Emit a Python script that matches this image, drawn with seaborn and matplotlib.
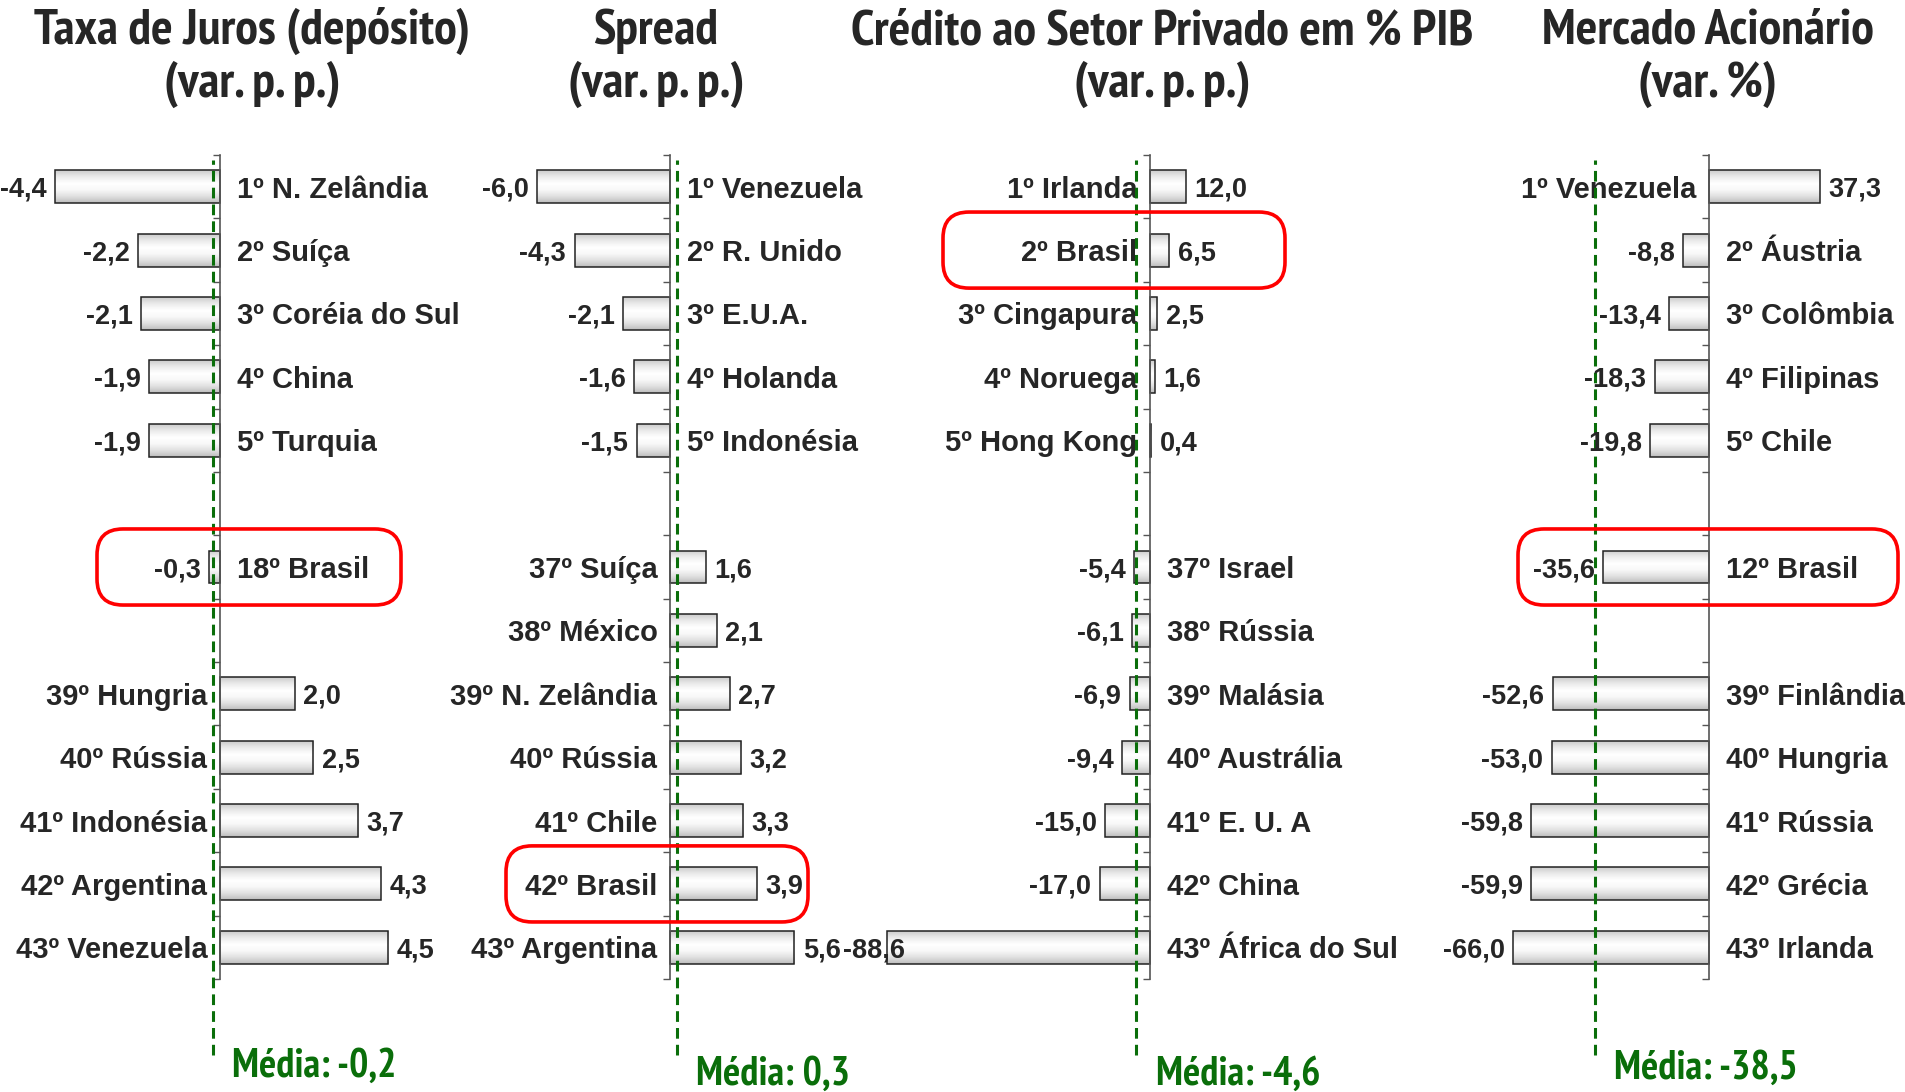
import numpy as np
import pandas as pd
import matplotlib.pyplot as plt
import seaborn as sns
from matplotlib import font_manager
from matplotlib.font_manager import FontProperties
from matplotlib.patches import FancyBboxPatch
from matplotlib.transforms import IdentityTransform

# DADOS ---------------------------------------------------------------------------------
# Taxa de juros (depósito), var. p. p.
juros_paises = ['1º N. Zelândia', '2º Suíça', '3º Coréia do Sul', '4º China', '5º Turquia',
                '18º Brasil',
                '39º Hungria', '40º Rússia', '41º Indonésia', '42º Argentina', '43º Venezuela']
juros_valores = [-4.4, -2.2, -2.1, -1.9, -1.9, -0.3, 2.0, 2.5, 3.7, 4.3, 4.5]
juros_media = -0.2

# Spread, var. p. p.
spread_paises = ['1º Venezuela', '2º R. Unido', '3º E.U.A.', '4º Holanda', '5º Indonésia',
                 '37º Suíça', '38º México', '39º N. Zelândia', '40º Rússia', '41º Chile',
                 '42º Brasil', '43º Argentina']
spread_valores = [-6.0, -4.3, -2.1, -1.6, -1.5, 1.6, 2.1, 2.7, 3.2, 3.3, 3.9, 5.6]
spread_media = 0.3

# Crédito ao setor privado em % PIB, var. p. p.
credito_paises = ['1º Irlanda', '2º Brasil', '3º Cingapura', '4º Noruega', '5º Hong Kong',
                  '37º Israel', '38º Rússia', '39º Malásia', '40º Austrália', '41º E. U. A',
                  '42º China', '43º África do Sul']
credito_valores = [12.0, 6.5, 2.5, 1.6, 0.4, -5.4, -6.1, -6.9, -9.4, -15.0, -17.0, -88.6]
credito_media = -4.6

# Mercado acionário, var. %
acoes_paises = ['1º Venezuela', '2º Áustria', '3º Colômbia', '4º Filipinas', '5º Chile',
                '12º Brasil',
                '39º Finlândia', '40º Hungria', '41º Rússia', '42º Grécia', '43º Irlanda']
acoes_valores = [37.3, -8.8, -13.4, -18.3, -19.8, -35.6, -52.6, -53.0, -59.8, -59.9, -66.0]
acoes_media = -38.5

# Ordem das linhas (os "vazio" são linhas em branco)
juros_ordem = juros_paises[:5] + ['vazio1', juros_paises[5], 'vazio2'] + juros_paises[6:]
spread_ordem = spread_paises[:5] + ['vazio1'] + spread_paises[5:]
credito_ordem = credito_paises[:5] + ['vazio1'] + credito_paises[5:]
acoes_ordem = acoes_paises[:5] + ['vazio1', acoes_paises[5], 'vazio2'] + acoes_paises[6:]

paineis = [
    ('Taxa de Juros (depósito)', '(var. p. p.)', juros_paises, juros_valores, juros_ordem,
     juros_media, '18º Brasil'),
    ('Spread', '(var. p. p.)', spread_paises, spread_valores, spread_ordem,
     spread_media, '42º Brasil'),
    ('Crédito ao Setor Privado em % PIB', '(var. p. p.)', credito_paises, credito_valores,
     credito_ordem, credito_media, '2º Brasil'),
    ('Mercado Acionário', '(var. %)', acoes_paises, acoes_valores, acoes_ordem,
     acoes_media, '12º Brasil'),
]

# LAYOUT (pixels da figura) ------------------------------------------------------------
W, H = 1906, 1092
# eixo zero (x), pixels por unidade, limites do eixo, caixa vermelha, centro do título, y do texto da média
layout = [
    dict(zero=220, escala=37.4, esq=30, dir=400, caixa=(97, 401), titulo=252, media_y=1077),
    dict(zero=670, escala=22.2, esq=480, dir=860, caixa=(506, 808), titulo=656, media_y=1085),
    dict(zero=1150, escala=2.97, esq=880, dir=1400, caixa=(943, 1285), titulo=1162, media_y=1085),
    dict(zero=1709, escala=2.97, esq=1480, dir=1890, caixa=(1518, 1898), titulo=1708, media_y=1079),
]
topo_px, base_px = 155, 979

VERDE = '#0a6e0a'


def fonte_condensada():
    """Procura uma sans condensada em negrito (o original usa Arial Narrow)."""
    achadas = []
    for f in font_manager.fontManager.ttflist:
        nome = f.name
        if 'Mono' in nome or 'Serif' in nome or 'CJK' in nome:
            continue
        st = f.stretch
        estreita = ('Narrow' in nome or 'Condensed' in nome
                    or st in ('condensed', 'semi-condensed', 'extra-condensed')
                    or (isinstance(st, (int, float)) and st < 500))
        wt = f.weight
        negrito = wt in ('bold', 'heavy', 'black') or (isinstance(wt, (int, float)) and 700 <= wt <= 800)
        if estreita and negrito:
            prioridade = 0 if 'Narrow' in nome else 1
            achadas.append((prioridade, f.fname))
    if achadas:
        return sorted(achadas)[0][1]
    return None


sns.set_theme(style='white')
plt.rcParams['font.family'] = ['Liberation Sans', 'DejaVu Sans']
plt.rcParams['font.weight'] = 'bold'

arq_cond = fonte_condensada()
if arq_cond:
    fp_titulo = FontProperties(fname=arq_cond)
    ajuste = 0.92   # a fonte achada é mais estreita que a Arial Narrow
else:
    fp_titulo = FontProperties(family=['Liberation Sans', 'DejaVu Sans'], weight='bold')
    ajuste = 1.0

fig = plt.figure(figsize=(W / 100, H / 100), dpi=100)
renderer = fig.canvas.get_renderer()


def tamanho_para_largura(texto, largura_px, base=30):
    t = fig.text(0, 0, texto, fontproperties=fp_titulo, fontsize=base)
    w = t.get_window_extent(renderer).width
    t.remove()
    return base * largura_px / w


tam_titulo = tamanho_para_largura('Taxa de Juros (depósito)', 474) * ajuste
tam_media = tamanho_para_largura('Média: -0,2', 178) * ajuste

# gradiente cinza/branco das barras
grad_stops = [0.80, 0.92, 1.0, 0.97, 0.88, 0.74]
grad = np.interp(np.linspace(0, 1, 60), np.linspace(0, 1, len(grad_stops)), grad_stops).reshape(-1, 1)

for (tit1, tit2, paises, valores, ordem, media, destaque), lay in zip(paineis, layout):
    ax = fig.add_axes([lay['esq'] / W, 1 - base_px / H,
                       (lay['dir'] - lay['esq']) / W, (base_px - topo_px) / H])
    ax.patch.set_alpha(0)

    df = pd.DataFrame({'pais': paises, 'valor': valores})
    sns.barplot(data=df, x='valor', y='pais', order=ordem, orient='h', width=0.52,
                color='white', saturation=1, edgecolor='#222222', linewidth=1.1,
                errorbar=None, ax=ax)

    # preenchimento em gradiente
    for barra in list(ax.patches):
        x0, w = barra.get_x(), barra.get_width()
        y0, h = barra.get_y(), barra.get_height()
        if np.isnan(w) or w == 0:
            continue
        im = ax.imshow(grad, extent=(min(x0, x0 + w), max(x0, x0 + w), y0 + h, y0),
                       aspect='auto', cmap='gray', vmin=0, vmax=1,
                       interpolation='bilinear', zorder=1.5)
        im.set_clip_path(barra)
        barra.set_facecolor('none')
        barra.set_zorder(2)

    n = len(ordem)
    ax.set_xlim((lay['esq'] - lay['zero']) / lay['escala'], (lay['dir'] - lay['zero']) / lay['escala'])
    ax.set_ylim(n - 0.5, -0.5)

    # eixo vertical no zero com marcas entre as linhas
    for lado in ['top', 'right', 'bottom']:
        ax.spines[lado].set_visible(False)
    ax.spines['left'].set_position(('data', 0))
    ax.spines['left'].set_color('#555555')
    ax.spines['left'].set_linewidth(1.2)
    ax.set_xticks([])
    ax.set_yticks(np.arange(-0.5, n, 1))
    ax.set_yticklabels([])
    ax.tick_params(axis='y', left=True, direction='out', length=5, width=1, color='#555555')
    ax.set_xlabel('')
    ax.set_ylabel('')

    # rótulos
    for pais, v in zip(paises, valores):
        pos = ordem.index(pais)
        txt_v = f'{v:.1f}'.replace('.', ',')
        if v >= 0:
            ax.annotate(pais, xy=(0, pos), xytext=(-9, 0), textcoords='offset points',
                        ha='right', va='center_baseline', fontsize=21, fontweight='bold')
            ax.annotate(txt_v, xy=(v, pos), xytext=(6, 0), textcoords='offset points',
                        ha='left', va='center_baseline', fontsize=19.5, fontweight='bold')
        else:
            ax.annotate(pais, xy=(0, pos), xytext=(12, 0), textcoords='offset points',
                        ha='left', va='center_baseline', fontsize=21, fontweight='bold')
            # barra muito longa: o rótulo entra um pouco na barra, como no original
            desloc = 13 if abs(v) * lay['escala'] > 240 else -6
            ax.annotate(txt_v, xy=(v, pos), xytext=(desloc, 0), textcoords='offset points',
                        ha='right', va='center_baseline', fontsize=19.5, fontweight='bold',
                        zorder=4)

    # linha da média
    ax.axvline(media, ymin=-0.092, ymax=0.994, color=VERDE, linestyle=(0, (3.5, 2)),
               linewidth=2.2, clip_on=False, zorder=3)
    ax.annotate(f'Média: {media:.1f}'.replace('.', ','),
                xy=(media, 0), xycoords=('data', 'figure fraction'),
                xytext=(14, (H - lay['media_y']) * 0.72), textcoords='offset points',
                ha='left', va='baseline', fontproperties=fp_titulo, fontsize=tam_media,
                color=VERDE, annotation_clip=False)

    # destaque do Brasil
    pos_b = ordem.index(destaque)
    _, y_sup = ax.transData.transform((0, pos_b - 0.6))
    _, y_inf = ax.transData.transform((0, pos_b + 0.6))
    cx0, cx1 = lay['caixa']
    caixa = FancyBboxPatch((cx0, y_inf), cx1 - cx0, y_sup - y_inf,
                           boxstyle='round,pad=0,rounding_size=26',
                           transform=IdentityTransform(), facecolor='none',
                           edgecolor='#ff0000', linewidth=2.6, zorder=5)
    fig.add_artist(caixa)

    # títulos
    fig.text(lay['titulo'] / W, 1 - 44 / H, tit1, ha='center', va='baseline',
             fontproperties=fp_titulo, fontsize=tam_titulo)
    fig.text(lay['titulo'] / W, 1 - 97 / H, tit2, ha='center', va='baseline',
             fontproperties=fp_titulo, fontsize=tam_titulo)

fig.savefig('out.png', dpi=100)
